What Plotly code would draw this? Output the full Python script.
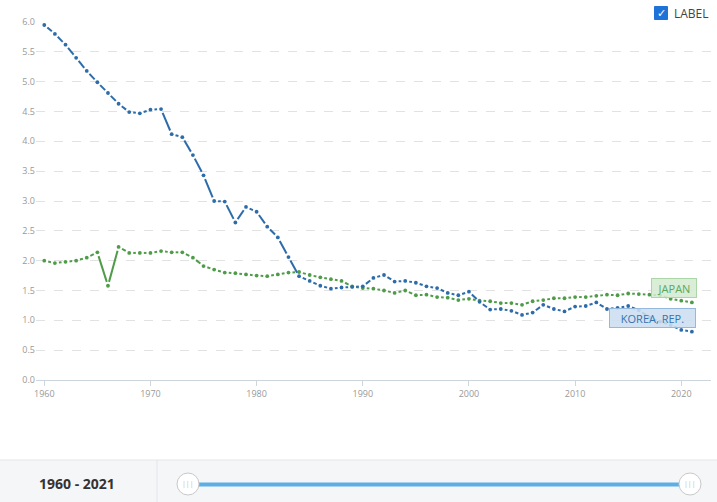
import plotly.graph_objects as go
import math

years = list(range(1960, 2022))
korea = [5.95, 5.80, 5.62, 5.40, 5.18, 4.99, 4.81, 4.63, 4.49, 4.47,
         4.53, 4.54, 4.12, 4.07, 3.77, 3.43, 3.00, 2.99, 2.64, 2.90,
         2.82, 2.57, 2.39, 2.06, 1.74, 1.66, 1.58, 1.53, 1.55, 1.56,
         1.57, 1.71, 1.76, 1.65, 1.66, 1.63, 1.57, 1.54, 1.46, 1.42,
         1.48, 1.31, 1.18, 1.19, 1.16, 1.09, 1.13, 1.26, 1.19, 1.15,
         1.23, 1.24, 1.30, 1.19, 1.21, 1.24, 1.17, 1.05, 0.98, 0.92,
         0.84, 0.81]
japan = [2.00, 1.96, 1.98, 2.00, 2.05, 2.14, 1.58, 2.23, 2.13, 2.13,
         2.13, 2.16, 2.14, 2.14, 2.05, 1.91, 1.85, 1.80, 1.79, 1.77,
         1.75, 1.74, 1.77, 1.80, 1.81, 1.76, 1.72, 1.69, 1.66, 1.57,
         1.54, 1.53, 1.50, 1.46, 1.50, 1.42, 1.43, 1.39, 1.38, 1.34,
         1.36, 1.33, 1.32, 1.29, 1.29, 1.26, 1.32, 1.34, 1.37, 1.37,
         1.39, 1.39, 1.41, 1.43, 1.42, 1.45, 1.44, 1.43, 1.42, 1.36,
         1.33, 1.30]
series_names = ["KOREA, REP.", "JAPAN"]
y_ticks = [0.0, 0.5, 1.0, 1.5, 2.0, 2.5, 3.0, 3.5, 4.0, 4.5, 5.0, 5.5, 6.0]
x_ticks = [1960, 1970, 1980, 1990, 2000, 2010, 2020]
range_label = "1960 - 2021"

W, H = 717, 502
ML, MR, MT, MB = 36, 6, 22, 122
XR = [1959.22, 2022.8]
YR = [0, 6.0]
pw = W - ML - MR
ph = H - MT - MB
sx = pw / (XR[1] - XR[0])
sy = ph / (YR[1] - YR[0])

KCOL = "#2c6cab"
JCOL = "#4f9c48"


def gapped(xs, ys, gap=4.0):
    ox, oy = [], []
    for i in range(len(xs) - 1):
        dx = (xs[i + 1] - xs[i]) * sx
        dy = (ys[i + 1] - ys[i]) * sy
        L = math.hypot(dx, dy)
        f = gap / L if L > 0 else 0
        ox += [xs[i] + (xs[i + 1] - xs[i]) * f, xs[i + 1] - (xs[i + 1] - xs[i]) * f, None]
        oy += [ys[i] + (ys[i + 1] - ys[i]) * f, ys[i + 1] - (ys[i + 1] - ys[i]) * f, None]
    return ox, oy


fig = go.Figure()
for vals, col in [(japan, JCOL), (korea, KCOL)]:
    gx, gy = gapped(years, vals)
    fig.add_trace(go.Scatter(x=gx, y=gy, mode="lines", line=dict(color=col, width=2),
                             hoverinfo="skip", showlegend=False))
    fig.add_trace(go.Scatter(x=years, y=vals, mode="markers",
                             marker=dict(color=col, size=3.8), showlegend=False))


def px(x):
    return (x - ML) / pw


def py(y):
    return (H - MB - y) / ph


shapes = []
# bottom panel
shapes.append(dict(type="rect", xref="paper", yref="paper", x0=px(-2), x1=px(W + 2),
                   y0=py(460), y1=py(H + 2), fillcolor="#f5f6f8",
                   line=dict(color="#e3e5e8", width=1), layer="below"))
shapes.append(dict(type="line", xref="paper", yref="paper", x0=px(157), x1=px(157),
                   y0=py(460), y1=py(H), line=dict(color="#e3e5e8", width=1)))
shapes.append(dict(type="line", xref="paper", yref="paper", x0=px(188), x1=px(690),
                   y0=py(484.5), y1=py(484.5), line=dict(color="#5eaee6", width=4)))
for cx in (188, 690):
    shapes.append(dict(type="circle", xref="paper", yref="paper", x0=px(cx - 11), x1=px(cx + 11),
                       y0=py(484 + 11), y1=py(484 - 11), fillcolor="white",
                       line=dict(color="#c8c8c8", width=1)))
# checkbox
shapes.append(dict(type="rect", xref="paper", yref="paper", x0=px(654.5), x1=px(667.5),
                   y0=py(19.5), y1=py(6.5), fillcolor="#1f72d8", line=dict(color="#1f72d8", width=1)))

annotations = [
    dict(xref="paper", yref="paper", x=px(77), y=py(484), text="<b>" + range_label + "</b>",
         showarrow=False, font=dict(size=14, color="#333", family="Open Sans"),
         xanchor="center", yanchor="middle"),
    dict(xref="paper", yref="paper", x=px(661), y=py(13), text="<b>✓</b>", showarrow=False,
         font=dict(size=11, color="white", family="DejaVu Sans"), xanchor="center", yanchor="middle"),
    dict(xref="paper", yref="paper", x=px(672), y=py(13), text="LABEL", showarrow=False,
         font=dict(size=12, color="#444", family="Open Sans"), xanchor="left", yanchor="middle"),
    dict(xref="paper", yref="paper", x=px(674), y=py(288), text="JAPAN", showarrow=False,
         font=dict(size=11, color="#5ea759", family="Open Sans"), bgcolor="rgba(212,234,209,0.88)",
         bordercolor="#add6a8", borderwidth=1, borderpad=2, width=40, height=14,
         xanchor="center", yanchor="middle"),
    dict(xref="paper", yref="paper", x=px(652.5), y=py(318), text="KOREA, REP.", showarrow=False,
         font=dict(size=11, color="#3673b0", family="Open Sans"), bgcolor="rgba(204,222,240,0.88)",
         bordercolor="#94b9dc", borderwidth=1, borderpad=2, width=81, height=14,
         xanchor="center", yanchor="middle"),
]
for cx in (188, 690):
    annotations.append(dict(xref="paper", yref="paper", x=px(cx), y=py(484), text="|||",
                            showarrow=False, font=dict(size=7, color="#bbb"),
                            xanchor="center", yanchor="middle"))

fig.update_layout(
    width=W, height=H, margin=dict(l=ML, r=MR, t=MT, b=MB),
    paper_bgcolor="white", plot_bgcolor="white",
    font=dict(family="Open Sans"),
    hovermode=False,
    shapes=shapes, annotations=annotations,
    xaxis=dict(range=XR, tickvals=x_ticks, ticktext=[str(t) for t in x_ticks],
               showgrid=False, zeroline=False, showline=True, linecolor="#ccd6dc", linewidth=1,
               ticks="outside", ticklen=5, tickcolor="#ccd6dc",
               tickfont=dict(size=9, color="#999")),
    yaxis=dict(range=YR, tickvals=y_ticks, ticktext=["%.1f" % t for t in y_ticks],
               showgrid=True, gridcolor="#e2e2e2", griddash="dash", gridwidth=1,
               zeroline=False, showline=False, ticks="", ticklen=0,
               tickfont=dict(size=9, color="#999")),
)
fig.write_html("out.html")
